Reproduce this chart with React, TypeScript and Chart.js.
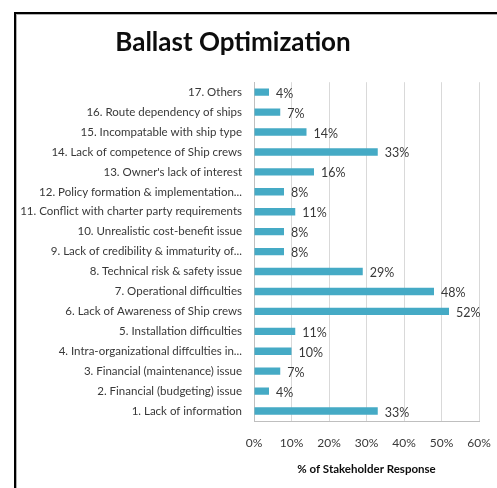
import React, { useEffect, useRef } from "react";
import { Chart, registerables } from "chart.js";

Chart.register(...registerables);

const categories = [
  "17. Others",
  "16. Route dependency of ships",
  "15. Incompatable with ship type",
  "14. Lack of competence of Ship crews",
  "13. Owner's lack of interest",
  "12. Policy formation & implementation...",
  "11. Conflict with charter party requirements",
  "10. Unrealistic cost-benefit issue",
  "9. Lack of credibility & immaturity of...",
  "8. Technical risk & safety issue",
  "7. Operational difficulties",
  "6. Lack of Awareness of Ship crews",
  "5. Installation difficulties",
  "4. Intra-organizational diffculties in...",
  "3. Financial (maintenance) issue",
  "2. Financial (budgeting) issue",
  "1. Lack of information",
];
const responses = [4, 7, 14, 33, 16, 8, 11, 8, 8, 29, 48, 52, 11, 10, 7, 4, 33];
const xTicks = [0, 10, 20, 30, 40, 50, 60];

const FONT = "Lato, 'Open Sans', sans-serif";
const TEXT = "#383838";

const valueLabels = {
  id: "valueLabels",
  afterDatasetsDraw(chart: any) {
    const ctx = chart.ctx;
    const meta = chart.getDatasetMeta(0);
    ctx.save();
    ctx.font = `12.5px ${FONT}`;
    ctx.fillStyle = TEXT;
    ctx.textAlign = "left";
    ctx.textBaseline = "middle";
    meta.data.forEach((el: any, i: number) => {
      ctx.fillText(`${responses[i]}%`, el.x + 7, el.y + 1.5);
    });
    ctx.restore();
  },
};

export default function App() {
  const ref = useRef<HTMLCanvasElement | null>(null);
  useEffect(() => {
    if (!ref.current) return;
    const chart = new Chart(ref.current, {
      type: "bar",
      data: {
        labels: categories,
        datasets: [
          {
            data: responses,
            backgroundColor: "#45AAC5",
            borderWidth: 0,
            categoryPercentage: 1,
            barPercentage: 0.37,
          },
        ],
      },
      plugins: [valueLabels],
      options: {
        indexAxis: "y",
        animation: false,
        responsive: false,
        devicePixelRatio: 1,
        layout: { padding: { left: 0, right: 27, top: 0, bottom: 0 } },
        plugins: {
          legend: { display: false },
          tooltip: { enabled: false },
          title: {
            display: true,
            text: "Ballast Optimization",
            color: "#0d0d0d",
            font: { family: FONT, size: 26, weight: "bold" },
            padding: { top: 27, bottom: 24 },
          },
        },
        scales: {
          x: {
            min: 0,
            max: 60,
            afterFit(scale: any) {
              scale.height = 67;
            },
            afterBuildTicks(scale: any) {
              scale.ticks = xTicks.map((v) => ({ value: v }));
            },
            ticks: {
              callback: (v: any) => `${v}%`,
              color: TEXT,
              font: { family: FONT, size: 12 },
              padding: 15,
              maxRotation: 0,
            },
            grid: { color: "#D9D9D9", drawTicks: false },
            border: { color: "#BFBFBF" },
            title: {
              display: true,
              text: "% of Stakeholder Response",
              color: "#0d0d0d",
              font: { family: FONT, size: 11.5, weight: "bold" },
              padding: { top: 0, bottom: 12 },
            },
          },
          y: {
            afterFit(scale: any) {
              scale.width = 267;
            },
            ticks: {
              color: TEXT,
              font: { family: FONT, size: 11.5 },
              padding: 12,
              autoSkip: false,
            },
            grid: { display: false, drawTicks: false },
            border: { color: "#BFBFBF" },
          },
        },
      },
    } as any);
    return () => chart.destroy();
  }, []);

  return (
    <div
      style={{
        position: "fixed",
        left: 0,
        top: 0,
        width: 497,
        height: 488,
        overflow: "hidden",
        background: "#ffffff",
      }}
    >
      <canvas
        ref={ref}
        width={519}
        height={488}
        style={{ position: "absolute", left: -13, top: 0, width: 519, height: 488 }}
      />
      <div
        style={{
          position: "absolute",
          left: 14,
          top: 12,
          width: 600,
          height: 600,
          border: "2px solid #000",
          boxShadow: "inset 1px 1px 0 #b0b0b0",
          pointerEvents: "none",
        }}
      />
    </div>
  );
}
